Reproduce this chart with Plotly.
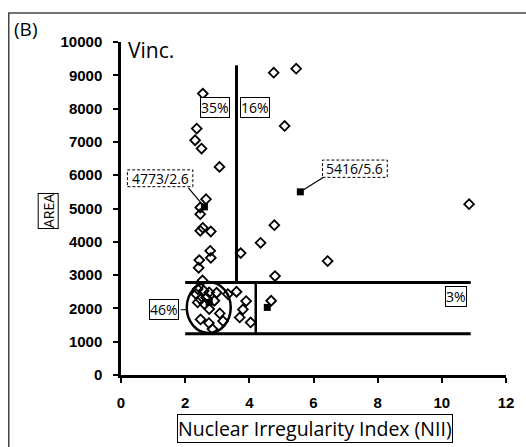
import plotly.graph_objects as go

# ---- data ----
nii = [2.55, 2.36, 2.31, 2.51, 3.07, 2.65, 2.47, 2.47, 2.55, 2.47, 2.80, 2.78, 2.80, 2.44,
       2.42, 2.54, 3.73, 4.35, 4.78, 4.80, 4.76, 5.46, 5.10, 10.85, 6.44,
       2.39, 2.58, 2.34, 2.75, 2.98, 3.33, 3.60, 2.47, 2.65, 2.91, 2.39, 2.60, 2.75,
       3.90, 3.80, 3.70, 3.08, 3.18, 2.48, 2.74, 2.85, 4.04, 4.68]
area = [8450, 7400, 7050, 6800, 6250, 5280, 5030, 4830, 4420, 4330, 4310, 3730, 3520, 3450,
        3220, 2840, 3660, 3970, 4500, 2970, 9080, 9200, 7480, 5130, 3420,
        2580, 2530, 2430, 2480, 2470, 2430, 2500, 2280, 2330, 2230, 2180, 2130, 1980,
        2220, 1970, 1730, 1850, 1620, 1670, 1560, 1380, 1580, 2230]
mean_nii = [2.6, 5.59, 2.75, 4.56]
mean_area = [5050, 5500, 2180, 2030]

x_ticks = [0, 2, 4, 6, 8, 10, 12]
y_ticks = [0, 1000, 2000, 3000, 4000, 5000, 6000, 7000, 8000, 9000, 10000]

pct_labels = ["35%", "16%", "46%", "3%"]
mean_labels = ["4773/2.6", "5416/5.6"]

LABEL_FONT = dict(family="Open Sans, sans-serif", size=14, color="black")

fig = go.Figure()
fig.add_trace(go.Scatter(
    x=nii, y=area, mode="markers",
    marker=dict(symbol="diamond-open", size=7.5, color="black", line=dict(width=1.8, color="black")),
    showlegend=False, cliponaxis=False))
fig.add_trace(go.Scatter(
    x=mean_nii, y=mean_area, mode="markers",
    marker=dict(symbol="square", size=7, color="black"),
    showlegend=False, cliponaxis=False))

shapes = []
def line(x0, y0, x1, y1, w=3, dash=None):
    shapes.append(dict(type="line", xref="x", yref="y", x0=x0, y0=y0, x1=x1, y1=y1,
                       line=dict(color="black", width=w, dash=dash)))

line(3.6, 2780, 3.6, 9300)          # vertical divider
line(2.0, 2780, 10.9, 2780)         # top of lower band
line(2.0, 1240, 10.9, 1240)         # bottom of lower band
line(4.2, 1240, 4.2, 2780, w=2.5)   # inner divider
shapes.append(dict(type="circle", xref="x", yref="y", x0=2.05, x1=3.42, y0=1260, y1=2790,
                   line=dict(color="black", width=2.5)))
line(1.86, 1960, 2.06, 1960, w=1)   # 46% connector
# leaders for mean labels
line(2.1, 5620, 2.6, 5050, w=1.2)
line(6.3, 5930, 5.59, 5500, w=1.2)
# dashed boxes for mean labels
shapes.append(dict(type="rect", xref="x", yref="y", x0=0.20, x1=2.24, y0=5655, y1=6160,
                   line=dict(color="black", width=1, dash="3px,2px")))
shapes.append(dict(type="rect", xref="x", yref="y", x0=6.28, x1=8.30, y0=5935, y1=6455,
                   line=dict(color="black", width=1, dash="3px,2px")))
# outer frame of the panel
shapes.append(dict(type="rect", xref="paper", yref="paper", x0=-0.2915, x1=1.2, y0=-0.4, y1=1.087,
                   line=dict(color="#444", width=1.5)))

ann = []
def boxed(text, x, y):
    ann.append(dict(x=x, y=y, xref="x", yref="y", text=text, showarrow=False, font=LABEL_FONT,
                    bordercolor="black", borderwidth=1, borderpad=0, bgcolor="white"))

boxed(pct_labels[0], 2.93, 8020)
boxed(pct_labels[1], 4.18, 8020)
boxed(pct_labels[2], 1.35, 1960)
boxed(pct_labels[3], 10.45, 2350)
ann.append(dict(x=1.22, y=5905, xref="x", yref="y", text=mean_labels[0], showarrow=False, font=LABEL_FONT))
ann.append(dict(x=7.29, y=6195, xref="x", yref="y", text=mean_labels[1], showarrow=False, font=LABEL_FONT))
ann.append(dict(x=0.17, y=9760, xref="x", yref="y", text="Vinc.", showarrow=False, xanchor="left",
                font=dict(family="Open Sans, sans-serif", size=21, color="black")))
ann.append(dict(x=-0.283, y=1.083, xref="paper", yref="paper", text="(B)", showarrow=False,
                xanchor="left", yanchor="top",
                font=dict(family="Open Sans, sans-serif", size=19, color="black")))
ann.append(dict(x=0.505, y=-0.16, xref="paper", yref="paper", text="Nuclear Irregularity Index (NII)",
                showarrow=False, xanchor="center", yanchor="middle",
                font=dict(family="Open Sans, sans-serif", size=19.5, color="black"),
                bordercolor="black", borderwidth=1, borderpad=0))
ann.append(dict(x=-0.19, y=0.492, xref="paper", yref="paper", text="AREA", textangle=-90,
                showarrow=False, xanchor="center", yanchor="middle",
                font=dict(family="Open Sans, sans-serif", size=14, color="black"),
                bordercolor="black", borderwidth=1, borderpad=0))

tickfont = dict(family="Liberation Sans, Arial, sans-serif", size=15, color="black")
fig.update_layout(
    width=526, height=447,
    margin=dict(l=121, r=17, t=42, b=72),
    plot_bgcolor="white", paper_bgcolor="white",
    shapes=shapes, annotations=ann,
    xaxis=dict(range=[0, 12], tickvals=x_ticks, ticktext=[f"<b>{v}</b>" for v in x_ticks],
               showgrid=False, zeroline=False,
               showline=True, linecolor="black", linewidth=2.5, ticks="outside",
               ticklen=5, tickwidth=2, tickcolor="black", tickfont=tickfont, ticklabelstandoff=7),
    yaxis=dict(range=[0, 10000], tickvals=y_ticks, ticktext=[f"<b>{v}</b>" for v in y_ticks],
               showgrid=False, zeroline=False,
               showline=True, linecolor="black", linewidth=2.5, ticks="outside",
               ticklen=5, tickwidth=2, tickcolor="black", tickfont=tickfont, ticklabelstandoff=8),
)
fig.write_html("out.html")
